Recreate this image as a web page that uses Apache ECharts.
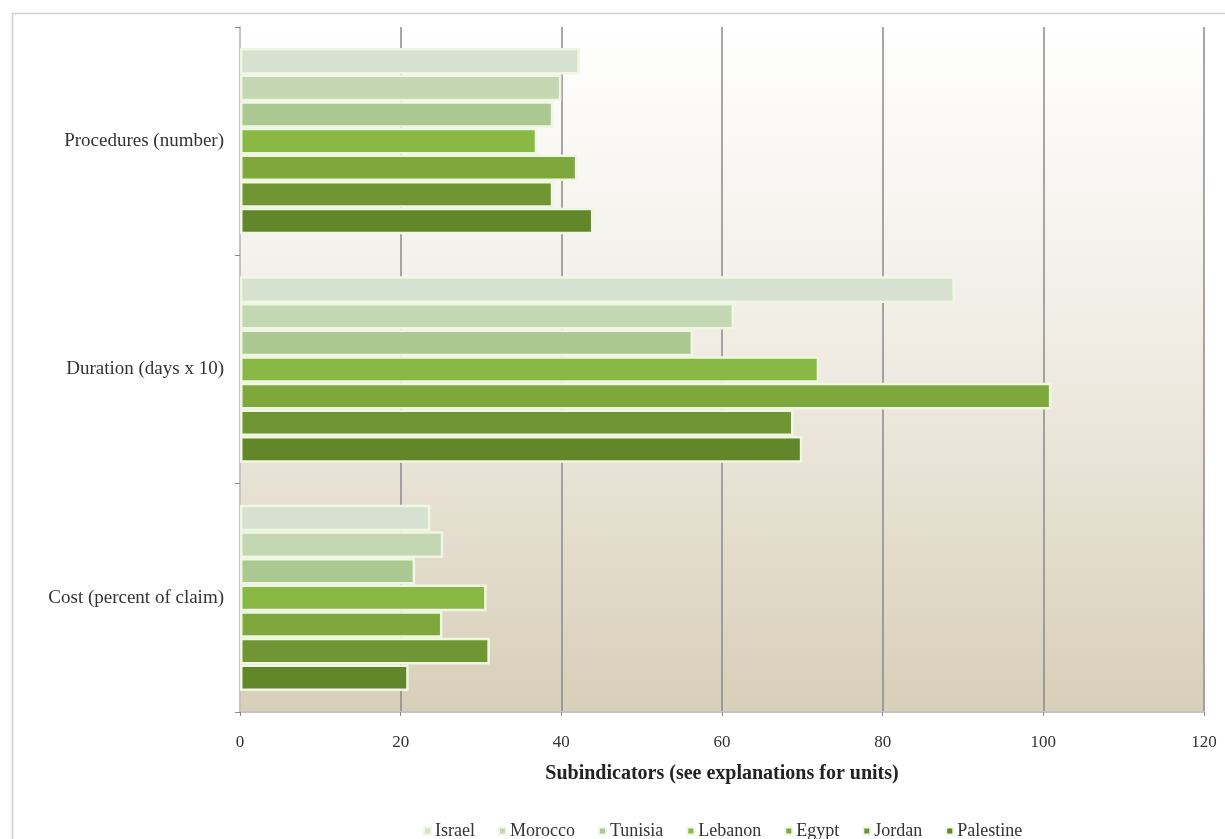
<!DOCTYPE html>
<html>
<head>
<meta charset="utf-8">
<script src="https://cdn.jsdelivr.net/npm/echarts@6/dist/echarts.min.js"></script>
<style>
  html, body { margin: 0; padding: 0; background: #ffffff; }
  #chart { width: 1225px; height: 839px; }
</style>
</head>
<body>
<div id="chart"></div>
<script>
// Subindicator categories (top to bottom)
const categories = ['Procedures (number)', 'Duration (days x 10)', 'Cost (percent of claim)'];

// Country series
const countries = ['Israel', 'Morocco', 'Tunisia', 'Lebanon', 'Egypt', 'Jordan', 'Palestine'];
const israel    = [42.3, 89.0, 23.7];
const morocco   = [40.0, 61.5, 25.3];
const tunisia   = [39.0, 56.4, 21.8];
const lebanon   = [37.0, 72.1, 30.7];
const egypt     = [42.0, 101.0, 25.2];
const jordan    = [39.0, 68.9, 31.1];
const palestine = [44.0, 70.0, 21.0];
const seriesValues = [israel, morocco, tunisia, lebanon, egypt, jordan, palestine];

const palette = ['#d6e2cf', '#c3d7b3', '#abc893', '#89b944', '#7ea83c', '#709634', '#62872b'];

// X axis ticks
const xMin = 0, xMax = 120, xStep = 20;

const serif = '"Liberation Serif", "DejaVu Serif", serif';

const chart = echarts.init(document.getElementById('chart'), null, { renderer: 'canvas' });

const series = countries.map((name, i) => ({
  name: name,
  type: 'bar',
  data: seriesValues[i],
  barGap: '0%',
  barCategoryGap: '18.4%',
  itemStyle: {
    color: palette[i],
    borderColor: '#eff6e2',
    borderWidth: 2.5
  },
  emphasis: { disabled: true }
}));

chart.setOption({
  animation: false,
  backgroundColor: '#ffffff',
  color: palette,
  graphic: [{
    type: 'rect',
    silent: true,
    z: -10,
    shape: { x: 12.5, y: 13.5, width: 1240, height: 860 },
    style: { fill: 'none', stroke: '#cfcfcf', lineWidth: 1.5 }
  }],
  grid: {
    left: 240, right: 21, top: 27, bottom: 127,
    show: true,
    borderWidth: 0,
    backgroundColor: {
      type: 'linear', x: 0, y: 0, x2: 0, y2: 1,
      colorStops: [
        { offset: 0, color: '#ffffff' },
        { offset: 0.5, color: '#efebe2' },
        { offset: 1, color: '#d8cfb9' }
      ]
    }
  },
  legend: {
    data: countries,
    top: 817,
    left: 418,
    icon: 'rect',
    itemWidth: 7,
    itemHeight: 7,
    itemGap: 23,
    textStyle: { fontFamily: serif, fontSize: 18, color: '#333333', padding: [0, 0, 0, -1] }
  },
  xAxis: {
    type: 'value',
    min: xMin, max: xMax, interval: xStep,
    name: 'Subindicators (see explanations for units)',
    nameLocation: 'middle',
    nameGap: 52,
    nameTextStyle: { fontFamily: serif, fontSize: 20, fontWeight: 'bold', color: '#222222' },
    axisLine: { show: true, lineStyle: { color: '#c4c4c4', width: 2 } },
    axisTick: { show: true, length: 4, lineStyle: { color: '#8a8a8a', width: 1 } },
    axisLabel: { fontFamily: serif, fontSize: 17, color: '#333333', margin: 22 },
    splitLine: { show: true, lineStyle: { color: '#8a8a8a', width: 1.5 } }
  },
  yAxis: {
    type: 'category',
    data: categories,
    inverse: true,
    axisLine: { show: true, lineStyle: { color: '#c4c4c4', width: 2 } },
    axisTick: { show: true, length: 5, lineStyle: { color: '#8a8a8a', width: 1 } },
    axisLabel: { fontFamily: serif, fontSize: 19, color: '#333333', margin: 16 },
    splitLine: { show: false }
  },
  series: series
});
</script>
</body>
</html>
